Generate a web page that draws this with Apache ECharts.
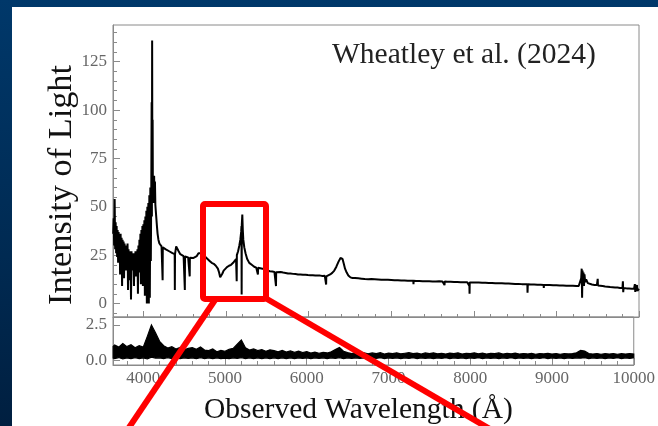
<!DOCTYPE html>
<html>
<head>
<meta charset="utf-8">
<script src="https://cdn.jsdelivr.net/npm/echarts@6/dist/echarts.min.js"></script>
<style>
  html, body { margin: 0; padding: 0; }
  #c {
    width: 658px; height: 426px;
    background:
      linear-gradient(#ffffff, #ffffff) 12px 7px / 646px 419px no-repeat,
      linear-gradient(180deg, #00386a 0%, #002a52 60%, #001f40 100%);
  }
</style>
</head>
<body>
<div id="c"></div>
<script>
// ---------- DATA ----------
const specWave = [3632,3638,3644,3650,3656,3662,3668,3674,3680,3686,3692,3698,3704,3710,3716,3722,3728,3734,3740,3746,3752,3758,3764,3770,3776,3782,3788,3794,3800,3806,3812,3818,3824,3830,3836,3842,3848,3854,3860,3866,3872,3878,3884,3890,3896,3902,3908,3914,3920,3926,3932,3938,3944,3950,3956,3962,3968,3974,3980,3986,3992,3998,4004,4010,4016,4022,4028,4034,4040,4046,4052,4058,4064,4070,4076,4082,4088,4094,4098,4101,4104,4107,4110,4113,4118,4122,4128,4133,4138,4143,4148,4155,4162,4170,4180,4192,4205,4218,4229,4231,4233,4250,4270,4290,4310,4330,4350,4370,4377,4379,4381,4395,4410,4425,4445,4465,4485,4498,4500,4502,4520,4540,4557,4559,4561,4580,4600,4620,4645,4665,4685,4705,4725,4750,4775,4800,4825,4850,4875,4900,4915,4928,4940,4955,4970,4990,5010,5035,5060,5085,5105,5120,5126,5128,5130,5145,5160,5172,5182,5186,5188,5190,5196,5202,5208,5220,5235,5255,5280,5310,5340,5365,5383,5385,5387,5410,5440,5470,5500,5530,5560,5585,5602,5604,5606,5630,5660,5690,5720,5750,5780,5810,5840,5870,5900,5930,5960,5990,6020,6050,6080,6110,6140,6170,6195,6209,6211,6213,6235,6260,6285,6310,6335,6360,6385,6398,6410,6425,6440,6460,6480,6505,6530,6560,6600,6640,6680,6720,6760,6800,6840,6880,6920,6960,7000,7040,7080,7120,7160,7200,7240,7267,7269,7271,7300,7340,7380,7420,7460,7500,7540,7580,7620,7643,7645,7647,7680,7720,7760,7800,7840,7880,7920,7940,7946,7948,7950,7980,8020,8060,8100,8140,8180,8220,8260,8300,8340,8380,8420,8460,8500,8540,8580,8620,8648,8650,8652,8654,8690,8730,8770,8810,8845,8847,8849,8880,8920,8960,9000,9040,9080,9120,9160,9200,9240,9270,9290,9300,9306,9311,9316,9322,9328,9334,9340,9348,9360,9380,9400,9430,9460,9490,9500,9503,9530,9560,9590,9620,9650,9680,9710,9740,9770,9800,9805,9809,9813,9850,9880,9910,9940,9950,9955,9960,9975,9980,9990,10000];
const specFlux = [36,44,30,54,28,42,26,40,24,38,21,37,25,35,15,36,23,34,9,33,20,32,13,31,22,30,17,29,21,31,7,28,19,27,12,26,2,27,17,25,20,26,9,24,18,27,14,25,20,28,5,30,16,33,22,36,10,38,18,40,9,41,20,43,4,45,14,48,0,50,8,52,0,56,3,60,22,62,104,45,136,58,95,54,64,52,66,53,63,51,48,44,40,36,33,31,30,29.5,29,12,29,28.5,28,27.5,27,26.5,26,25.8,25.5,7,25.5,29.5,28.5,27,25.5,25,24.5,24.3,7,24.3,24,23.8,23.6,14,23.6,23.5,23.5,23.8,24.5,26,27,26,24.5,24,23,22,21,20.5,19.5,18,16,13.5,14,15.5,17,18,18.8,19.5,20,21,22,23,24,11.5,25,27,30,33,37,40,4.6,41,46,38,33,29,26,23,21,20,19,18.5,18.5,15,18.5,18.3,18,17.5,17,16.7,16.5,16.3,16.2,9,16.2,16.5,16.3,16,15.8,15.5,15.5,15.3,15.2,15,15,14.8,14.9,14.7,14.6,14.6,14.5,14.4,14.4,14.2,14.3,14,9.8,14,14.5,15,15.8,17,19,21.5,23.5,24.5,23,20.5,18,16,14.5,13.5,13.2,13.2,13,12.8,12.6,12.5,12.6,12.5,12.4,12.3,12.3,12.2,12.1,12,12,11.9,11.9,11.8,11.8,11.7,10,11.7,11.6,11.6,11.5,11.5,11.5,11.4,11.4,11.5,11.4,11.3,9.5,11.3,11.2,11.2,11.1,11.1,11,11,11,10.9,9,5,10.9,10.9,10.8,10.8,10.7,10.7,10.6,10.6,10.5,10.4,10.4,10.3,10.3,10.2,10.1,10.1,10,10,9.9,5.5,8,9.9,9.8,9.8,9.7,9.7,9.6,8,9.6,9.5,9.5,9.4,9.4,9.3,9.3,9.2,9.2,9.1,9,9,10,13,18,3,17,12,16,9,15,11,12.5,10.5,10,9.8,9.6,9.5,12.7,9.3,9.2,9,8.8,8.7,8.5,8.4,8.3,8.2,8,8,11.5,5.8,8,7.8,7.7,7.6,7.6,10,6,7.5,9.5,6.5,7.5,7.5];

const resWave = [3632,3650,3700,3750,3800,3850,3900,3950,4000,4050,4100,4150,4200,4250,4300,4350,4400,4450,4500,4550,4600,4650,4700,4750,4800,4850,4900,4950,5000,5050,5100,5150,5200,5250,5300,5350,5400,5450,5500,5550,5600,5650,5700,5750,5800,5850,5900,5950,6000,6050,6100,6150,6200,6250,6300,6350,6400,6450,6500,6550,6600,6650,6700,6750,6800,6850,6900,6950,7000,7050,7100,7150,7200,7250,7300,7350,7400,7450,7500,7550,7600,7650,7700,7750,7800,7850,7900,7950,8000,8050,8100,8150,8200,8250,8300,8350,8400,8450,8500,8550,8600,8650,8700,8750,8800,8850,8900,8950,9000,9050,9100,9150,9200,9250,9300,9350,9400,9450,9500,9550,9600,9650,9700,9750,9800,9850,9900,9950,10000];
const resLow = [0.18,0.15,0.22,0.12,0.20,0.14,0.22,0.15,0.20,0.12,0.25,0.18,0.20,0.15,0.22,0.15,0.20,0.14,0.20,0.16,0.20,0.14,0.22,0.15,0.20,0.14,0.20,0.15,0.18,0.14,0.20,0.16,0.22,0.15,0.20,0.15,0.20,0.14,0.20,0.15,0.20,0.15,0.20,0.15,0.20,0.15,0.20,0.16,0.20,0.15,0.20,0.16,0.20,0.15,0.20,0.16,0.22,0.15,0.20,0.16,0.20,0.16,0.20,0.15,0.20,0.16,0.21,0.15,0.20,0.16,0.20,0.15,0.20,0.16,0.21,0.15,0.20,0.16,0.20,0.15,0.20,0.16,0.21,0.15,0.20,0.16,0.20,0.15,0.20,0.16,0.21,0.15,0.20,0.16,0.20,0.15,0.20,0.16,0.21,0.15,0.20,0.16,0.20,0.15,0.20,0.16,0.21,0.15,0.20,0.16,0.20,0.15,0.20,0.16,0.20,0.17,0.21,0.15,0.20,0.16,0.20,0.15,0.20,0.16,0.21,0.15,0.20,0.16,0.20];
const resHigh = [1.00,1.10,0.95,1.20,0.98,1.12,0.90,1.05,0.95,1.70,2.50,1.95,1.35,1.05,0.88,0.98,0.82,0.92,0.76,0.86,0.92,0.80,0.96,0.74,0.70,0.82,0.62,0.72,0.66,0.80,0.86,1.15,1.45,0.90,0.74,0.82,0.70,0.78,0.66,0.76,0.70,0.62,0.72,0.60,0.68,0.58,0.66,0.56,0.64,0.54,0.60,0.52,0.58,0.54,0.62,0.78,0.92,0.66,0.56,0.50,0.56,0.50,0.55,0.48,0.54,0.50,0.56,0.47,0.53,0.49,0.55,0.48,0.52,0.56,0.49,0.53,0.47,0.54,0.50,0.55,0.48,0.52,0.46,0.53,0.49,0.55,0.47,0.52,0.50,0.55,0.48,0.53,0.47,0.52,0.49,0.54,0.46,0.51,0.48,0.53,0.46,0.50,0.47,0.52,0.45,0.50,0.47,0.51,0.46,0.50,0.45,0.49,0.47,0.50,0.55,0.72,0.68,0.50,0.46,0.50,0.45,0.49,0.46,0.50,0.45,0.49,0.46,0.50,0.47];

const xMajorTicks = [4000,5000,6000,7000,8000,9000,10000];
const xMinorTicks = [3800,4200,4400,4600,4800,5200,5400,5600,5800,6200,6400,6600,6800,7200,7400,7600,7800,8200,8400,8600,8800,9200,9400,9600,9800];
const yMajorTicks = [0,25,50,75,100,125];
const yMinorTicks = [-5,5,10,15,20,30,35,40,45,55,60,65,70,80,85,90,95,105,110,115,120,130,135,140];
const resMajorTicks = [0,2.5];

const titleText = 'Wheatley et al. (2024)';
const yName = 'Intensity of Light';
const xName = 'Observed Wavelength (Å)';

// ---------- CHART ----------
const SERIF = 'Liberation Serif, Times New Roman, serif';
const AX = '#8a8a8a';
const LBL = '#666666';
const X_MIN = 3630, X_MAX = 10000;

const specData = specWave.map((w, i) => [w, specFlux[i]]);
const resData = resWave.map((w, i) => [w, resLow[i], resHigh[i]]);

function xAx(grid, ticks, len, showLine, labels, extra) {
  return Object.assign({
    type: 'value', gridIndex: grid, position: 'bottom', min: X_MIN, max: X_MAX,
    splitLine: { show: false },
    axisLine: { show: showLine, onZero: false, lineStyle: { color: AX, width: 1 } },
    axisTick: { show: true, inside: true, length: len, customValues: ticks, lineStyle: { color: AX, width: 1 } },
    axisLabel: labels ? { show: true, customValues: ticks, fontFamily: SERIF, fontSize: 17, color: LBL, margin: 5, formatter: v => String(v) } : { show: false }
  }, extra || {});
}
function yAx(grid, min, max, ticks, len, showLine, labels, fmt, extra) {
  return Object.assign({
    type: 'value', gridIndex: grid, position: 'left', min: min, max: max,
    splitLine: { show: false },
    axisLine: { show: showLine, onZero: false, lineStyle: { color: AX, width: 1 } },
    axisTick: { show: true, inside: true, length: len, customValues: ticks, lineStyle: { color: AX, width: 1 } },
    axisLabel: labels ? { show: true, customValues: ticks, fontFamily: SERIF, fontSize: 17, color: LBL, margin: 6, formatter: fmt } : { show: false }
  }, extra || {});
}

const chart = echarts.init(document.getElementById('c'), null, { renderer: 'canvas' });
chart.setOption({
  animation: false,
  backgroundColor: 'transparent',
  title: {
    text: titleText, left: 327, top: 35,
    textStyle: { fontFamily: SERIF, fontSize: 29.5, fontWeight: 'normal', color: '#222' }
  },
  grid: [
    { left: 113, right: 19, top: 25, height: 292, show: true, borderColor: AX, borderWidth: 1, backgroundColor: 'transparent' },
    { left: 113, right: 19, top: 317, height: 48, show: true, borderColor: AX, borderWidth: 1, backgroundColor: 'transparent' }
  ],
  xAxis: [
    xAx(0, xMajorTicks, 6, true, false),
    xAx(0, xMinorTicks, 3, false, false),
    xAx(1, xMajorTicks, 7, true, true, {
      name: xName, nameLocation: 'middle', nameGap: 30,
      nameTextStyle: { fontFamily: SERIF, fontSize: 29.5, color: '#111', padding: [0, 30, 0, 0] }
    }),
    xAx(1, xMinorTicks, 4, false, false)
  ],
  yAxis: [
    yAx(0, -7, 144, yMajorTicks, 7, true, true, v => String(v), {
      name: yName, nameLocation: 'middle', nameGap: 34, nameMoveOverlap: false,
      nameTextStyle: { fontFamily: SERIF, fontSize: 34.3, color: '#111', padding: [0, 28, 0, 0] }
    }),
    yAx(0, -7, 144, yMinorTicks, 4, false, false),
    yAx(1, -0.3, 3.05, resMajorTicks, 7, true, true, v => Number(v).toFixed(1))
  ],
  series: [
    {
      type: 'line', xAxisIndex: 0, yAxisIndex: 0, data: specData,
      showSymbol: false, symbol: 'none', clip: true, silent: true,
      lineStyle: { color: '#000', width: 2 }
    },
    {
      type: 'custom', xAxisIndex: 2, yAxisIndex: 2, silent: true,
      data: [0],
      encode: { x: -1, y: -1 },
      renderItem: function (params, api) {
        const top = resData.map(d => api.coord([d[0], d[2]]));
        const bot = resData.map(d => api.coord([d[0], d[1]])).reverse();
        return {
          type: 'polygon',
          shape: { points: top.concat(bot) },
          style: { fill: '#000', stroke: '#000', lineWidth: 1.2 }
        };
      }
    }
  ],
  graphic: [
    { type: 'rect', z: 100, shape: { x: 203, y: 204, width: 63, height: 95, r: 2 },
      style: { fill: 'none', stroke: '#ff0000', lineWidth: 6 } },
    { type: 'line', z: 100, shape: { x1: 215, y1: 300, x2: 126, y2: 432 },
      style: { stroke: '#ff0000', lineWidth: 6 } },
    { type: 'line', z: 100, shape: { x1: 267, y1: 299, x2: 495, y2: 432 },
      style: { stroke: '#ff0000', lineWidth: 6 } }
  ]
});
</script>
</body>
</html>
